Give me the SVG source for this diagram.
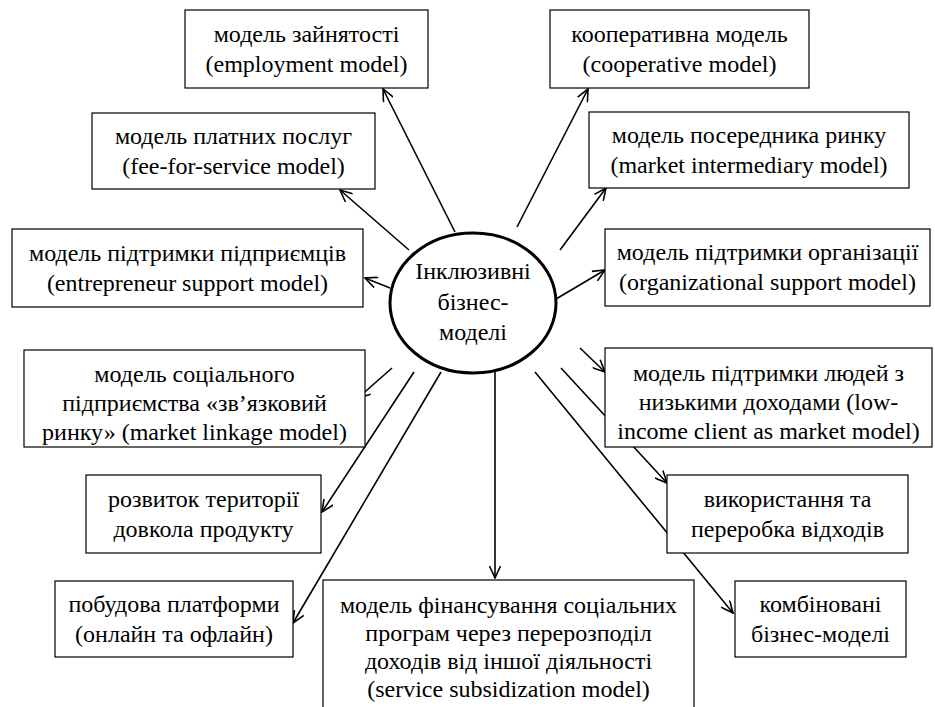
<svg xmlns="http://www.w3.org/2000/svg" width="935" height="707" viewBox="0 0 935 707">
<defs>
<marker id="arr" viewBox="0 0 14 12" refX="13" refY="6" markerWidth="14" markerHeight="12" markerUnits="userSpaceOnUse" orient="auto">
<path d="M1,0.5 L13,6 L1,11.5" fill="none" stroke="#000" stroke-width="1.6"/>
</marker>
</defs>
<style>
.box{fill:#fff;stroke:#000;stroke-width:1.2}
text{font-family:'Liberation Serif','Times New Roman',serif;font-size:24px;fill:#000;text-anchor:middle}
.c line{stroke:#000;stroke-width:1.6;marker-end:url(#arr)}
</style>
<rect width="935" height="707" fill="#fff"/>
<g class="c" id="connectors">
<line x1="455" y1="232" x2="383" y2="89"/>
<line x1="517" y1="227" x2="588" y2="89"/>
<line x1="409" y1="250" x2="340" y2="190"/>
<line x1="560" y1="250" x2="606" y2="188"/>
<line x1="390" y1="288" x2="365" y2="278"/>
<line x1="556" y1="299" x2="605" y2="270"/>
<line x1="392" y1="368" x2="358" y2="398"/>
<line x1="580" y1="348" x2="605" y2="372"/>
<line x1="414" y1="372" x2="322" y2="512"/>
<line x1="441" y1="372" x2="293" y2="623"/>
<line x1="495" y1="372" x2="495" y2="578"/>
<line x1="561" y1="368" x2="667" y2="483"/>
<line x1="535" y1="372" x2="733" y2="613"/>
</g>
<g id="center">
<ellipse cx="473" cy="303" rx="83" ry="70" fill="#fff" stroke="#000" stroke-width="3"/>
<text x="473" y="279">Інклюзивні</text>
<text x="473" y="310">бізнес-</text>
<text x="473" y="340">моделі</text>
</g>
<g id="n1"><rect class="box" x="185" y="10" width="243" height="78"/>
<text x="306.5" y="42">модель зайнятості</text><text x="306.5" y="72">(employment model)</text></g>
<g id="n2"><rect class="box" x="550" y="10" width="259" height="78"/>
<text x="679.5" y="42">кооперативна модель</text><text x="679.5" y="72">(cooperative model)</text></g>
<g id="n3"><rect class="box" x="92" y="113" width="283" height="76"/>
<text x="233.5" y="144">модель платних послуг</text><text x="233.5" y="174">(fee-for-service model)</text></g>
<g id="n4"><rect class="box" x="589" y="112" width="320" height="76"/>
<text x="749" y="143">модель посередника ринку</text><text x="749" y="173">(market intermediary model)</text></g>
<g id="n5"><rect class="box" x="12" y="229" width="351" height="78"/>
<text x="187.5" y="261">модель підтримки підприємців</text><text x="187.5" y="291">(entrepreneur support model)</text></g>
<g id="n6"><rect class="box" x="605" y="229" width="325" height="77"/>
<text x="767.5" y="260">модель підтримки організації</text><text x="767.5" y="290">(organizational support model)</text></g>
<g id="n7"><rect class="box" x="24" y="350" width="341" height="97"/>
<text x="194.5" y="382">модель соціального</text><text x="194.5" y="411">підприємства «зв’язковий</text><text x="194.5" y="440">ринку» (market linkage model)</text></g>
<g id="n8"><rect class="box" x="605" y="348" width="327" height="99"/>
<text x="768.5" y="381">модель підтримки людей з</text><text x="768.5" y="410">низькими доходами (low-</text><text x="768.5" y="439">income client as market model)</text></g>
<g id="n9"><rect class="box" x="86" y="475" width="235" height="78"/>
<text x="203.5" y="507">розвиток території</text><text x="203.5" y="537">довкола продукту</text></g>
<g id="n10"><rect class="box" x="55" y="581" width="238" height="76"/>
<text x="174" y="612">побудова платформи</text><text x="174" y="642">(онлайн та офлайн)</text></g>
<g id="n11"><rect class="box" x="323" y="580" width="371" height="140"/>
<text x="508.5" y="613">модель фінансування соціальних</text><text x="508.5" y="641">програм через перерозподіл</text><text x="508.5" y="669">доходів від іншої діяльності</text><text x="508.5" y="697">(service subsidization model)</text></g>
<g id="n12"><rect class="box" x="667" y="475" width="241" height="78"/>
<text x="787.5" y="507">використання та</text><text x="787.5" y="537">переробка відходів</text></g>
<g id="n13"><rect class="box" x="735" y="581" width="171" height="76"/>
<text x="820.5" y="612">комбіновані</text><text x="820.5" y="642">бізнес-моделі</text></g>
</svg>
